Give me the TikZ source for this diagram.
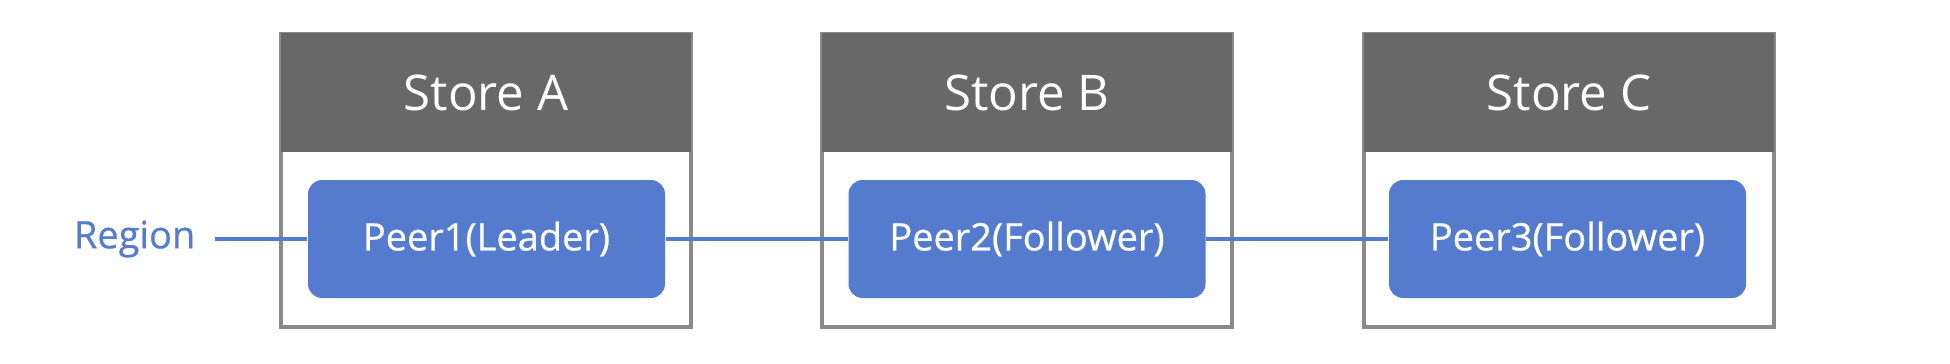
\documentclass[tikz,border=0pt]{standalone}
\usepackage{fontspec}
\setmainfont{Open Sans}
\newfontfamily\medfont[FakeBold=0.6]{Open Sans}
\definecolor{hdgray}{RGB}{104,104,104}
\definecolor{bdgray}{RGB}{138,138,138}
\definecolor{peerblue}{RGB}{84,123,205}
\usetikzlibrary{positioning}

\begin{document}
\begin{tikzpicture}[
  store/.style={draw=bdgray,line width=1pt,minimum width=4.1cm,minimum height=2.93cm,inner sep=0pt},
  head/.style={fill=hdgray,minimum width=4.1cm,minimum height=1.19cm,inner sep=0pt,
    text=white,font=\fontsize{14}{16}\selectfont},
  peer/.style={fill=peerblue,rounded corners=4pt,minimum width=3.57cm,minimum height=1.18cm,
    text=white,font=\medfont\fontsize{10.8}{12}\selectfont},
  link/.style={draw=peerblue,line width=1pt}
]
  \useasboundingbox (0,0) rectangle (19.5,3.63);
  % stores with their header bars
  \node[store] (storeA) at (4.86,1.825) {};
  \node[store] (storeB) at (10.27,1.825) {};
  \node[store] (storeC) at (15.69,1.825) {};
  \node[head,below=0pt of storeA.north] (headA) {Store A};
  \node[head,below=0pt of storeB.north] (headB) {Store B};
  \node[head,below=0pt of storeC.north] (headC) {Store C};

  \node[peer] (peer1) at (4.865,1.24) {Peer1(Leader)};
  \node[peer] (peer2) at (10.27,1.24) {Peer2(Follower)};
  \node[peer] (peer3) at (15.675,1.24) {Peer3(Follower)};
  \node[anchor=east,inner xsep=0.19cm,text=peerblue,font=\medfont\fontsize{10.8}{12}\selectfont]
    (region) at (2.15,1.24) {Region};

  \draw[link] (region) -- (peer1);
  \draw[link] (peer1) -- (peer2);
  \draw[link] (peer2) -- (peer3);
\end{tikzpicture}
\end{document}
